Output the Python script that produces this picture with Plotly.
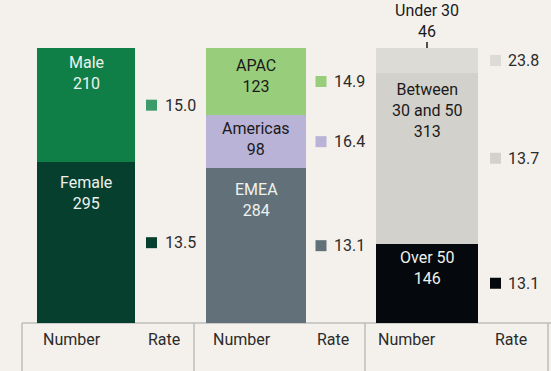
import plotly.graph_objects as go

# Workforce breakdown: three stacked columns (gender, region, age)
gender_labels = ["Female", "Male"]
gender_counts = [295, 210]
gender_rates = [13.5, 15.0]

region_labels = ["EMEA", "Americas", "APAC"]
region_counts = [284, 98, 123]
region_rates = [13.1, 16.4, 14.9]

age_labels = ["Over 50", "Between<br>30 and 50", "Under 30"]
age_counts = [146, 313, 46]
age_rates = [13.1, 13.7, 23.8]

column_headers = ["Number", "Rate"]

# styling / layout
BG = "#f4f1ec"
FONT = "Roboto"
FS = 16
W, H = 551, 371
groups = [
    dict(labels=gender_labels, counts=gender_counts, rates=gender_rates,
         colors=["#073f2f", "#0f7e47"], marker_colors=["#073f2f", "#3d9a6b"],
         text_colors=["#eef2ee", "#eef2ee"], label_drop=[9, 3],
         xc=86, width=98, rate_x=151.5, rate_gap=11, hdr_x=(72, 164), frame=(22, 194)),
    dict(labels=region_labels, counts=region_counts, rates=region_rates,
         colors=["#627179", "#b9b3d8", "#98cd7b"], marker_colors=["#627179", "#b9b3d8", "#98cd7b"],
         text_colors=["#eef2ee", "#1a1a1a", "#1a1a1a"], label_drop=[10, 2, 6],
         xc=256, width=100, rate_x=321, rate_gap=11, hdr_x=(241.5, 332.7), frame=(194, 365)),
    dict(labels=age_labels, counts=age_counts, rates=age_rates,
         colors=["#05090d", "#d3d1cb", "#dcdbd5"], marker_colors=["#05090d", "#d3d1cb", "#dcdbd5"],
         text_colors=["#eef2ee", "#1a1a1a", "#1a1a1a"], label_drop=[2, 5, None],
         xc=427, width=102, rate_x=495.5, rate_gap=10, hdr_x=(407, 511), frame=(365, 548)),
]

# vertical scale: column base at pixel 323, column top (505) at pixel 48
total = max(sum(g["counts"]) for g in groups)
px_per_unit = (323 - 48) / total
y_min = -(H - 323) / px_per_unit
y_max = total + 48 / px_per_unit

fig = go.Figure()
annotations = []
shapes = []

for g in groups:
    base = 0
    for i, (lab, cnt) in enumerate(zip(g["labels"], g["counts"])):
        fig.add_trace(go.Bar(
            x=[g["xc"]], y=[cnt], width=[g["width"]],
            marker=dict(color=g["colors"][i], line=dict(width=0)),
            hoverinfo="skip", showlegend=False,
        ))
        top = base + cnt
        drop = g["label_drop"][i]
        if drop is None:
            # label sits above the column with a short tick
            annotations.append(dict(
                x=g["xc"], y=top, xref="x", yref="y", text=f"{lab}<br>{cnt}",
                showarrow=False, yanchor="bottom", yshift=5,
                font=dict(family=FONT, size=FS, color="#1a1a1a")))
            shapes.append(dict(type="line", xref="x", yref="y",
                               x0=g["xc"], x1=g["xc"], y0=top, y1=top + 6 / px_per_unit,
                               line=dict(color="#1a1a1a", width=1.5)))
        else:
            annotations.append(dict(
                x=g["xc"], y=top, xref="x", yref="y", text=f"{lab}<br>{cnt}",
                showarrow=False, yanchor="top", yshift=-drop,
                font=dict(family=FONT, size=FS, color=g["text_colors"][i])))
        base = top

    # rate markers at segment midpoints
    mids, b = [], 0
    for cnt in g["counts"]:
        mids.append(b + cnt / 2)
        b += cnt
    fig.add_trace(go.Scatter(
        x=[g["rate_x"]] * len(mids), y=mids, mode="markers",
        marker=dict(symbol="square", size=11, color=g["marker_colors"], line=dict(width=0)),
        hoverinfo="skip", showlegend=False,
    ))
    for m, r in zip(mids, g["rates"]):
        annotations.append(dict(
            x=g["rate_x"], y=m, xref="x", yref="y", text=f"{r:.1f}",
            showarrow=False, xanchor="left", xshift=g["rate_gap"],
            font=dict(family=FONT, size=FS, color="#2b2b2b")))

    for hx, h in zip(g["hdr_x"], column_headers):
        annotations.append(dict(
            x=hx, y=0, xref="x", yref="y", text=h, showarrow=False,
            yanchor="top", yshift=-5,
            font=dict(family=FONT, size=FS, color="#2b2b2b")))

# table frame under the columns
line_style = dict(color="#bdbdbd", width=1.5)
shapes.append(dict(type="line", xref="x", yref="y", x0=22, x1=W, y0=0, y1=0,
                   line=line_style, layer="below"))
for xv in [22, 194, 365, 548]:
    shapes.append(dict(type="line", xref="x", yref="y", x0=xv, x1=xv, y0=0, y1=y_min,
                       line=line_style))

fig.update_layout(
    width=W, height=H, margin=dict(l=0, r=0, t=0, b=0),
    paper_bgcolor=BG, plot_bgcolor=BG, barmode="stack", bargap=0,
    xaxis=dict(range=[0, W], visible=False, fixedrange=True),
    yaxis=dict(range=[y_min, y_max], visible=False, fixedrange=True),
    annotations=annotations, shapes=shapes,
)

fig.write_html("out.html")
